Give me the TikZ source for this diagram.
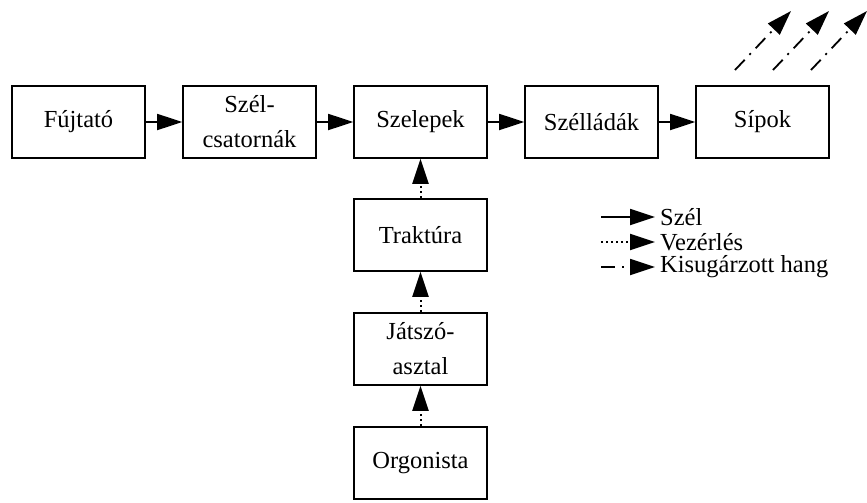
\documentclass[tikz,border=0pt]{standalone}
\usepackage{fontspec}
\setmainfont{Liberation Serif}
\usetikzlibrary{arrows.meta}
\begin{document}
\begin{tikzpicture}[x=1pt,y=-1pt,
  blk/.style={draw,line width=1.6pt,minimum width=133pt,minimum height=72pt,
    inner sep=0pt,align=center,font=\fontsize{24.5}{35}\selectfont},
  tip/.style={-{Triangle[length=25pt,width=16pt]}},
  wind/.style={tip,line width=1.8pt},
  ctrl/.style={tip,line width=2pt,dash pattern=on 2pt off 3pt},
  snd/.style={tip,line width=1.8pt,dash pattern=on 14pt off 7pt on 2pt off 7pt},
  lbl/.style={anchor=west,inner sep=0pt,font=\fontsize{24.5}{28}\selectfont}]
\useasboundingbox (0,0) rectangle (867,503);
% main wind path
\node[blk] (fuj) at (78.5,122) {Fújtató};
\node[blk] (csat) at (249.5,122) {Szél-\\csatornák};
\node[blk] (szel) at (420.5,122) {Szelepek};
\node[blk] (lad) at (591.5,122) {Szélládák};
\node[blk] (sip) at (762.5,122) {Sípok};
% control chain
\node[blk] (trak) at (420.5,235) {Traktúra};
\node[blk] (jat) at (420.5,349) {Játszó-\\asztal};
\node[blk] (org) at (420.5,463) {Orgonista};
\draw[wind] (fuj) -- (csat);
\draw[wind] (csat) -- (szel);
\draw[wind] (szel) -- (lad);
\draw[wind] (lad) -- (sip);
\draw[ctrl] (trak) -- (szel);
\draw[ctrl] (jat) -- (trak);
\draw[ctrl] (org) -- (jat);
% radiated sound
\coordinate (s1a) at (735,70); \coordinate (s1b) at (791,11);
\coordinate (s2a) at (773,70); \coordinate (s2b) at (829,11);
\coordinate (s3a) at (811,70); \coordinate (s3b) at (867,11);
\draw[snd] (s1a) -- (s1b);
\draw[snd] (s2a) -- (s2b);
\draw[snd] (s3a) -- (s3b);
% legend
\coordinate (l1a) at (601,217); \coordinate (l1b) at (655,217);
\coordinate (l2a) at (601,242); \coordinate (l2b) at (655,242);
\coordinate (l3a) at (601,267); \coordinate (l3b) at (655,267);
\draw[wind] (l1a) -- (l1b);
\draw[ctrl] (l2a) -- (l2b);
\draw[snd] (l3a) -- (l3b);
\node[lbl] (t1) at (660,217) {Szél};
\node[lbl] (t2) at (660,242) {Vezérlés};
\node[lbl] (t3) at (660,267) {Kisugárzott hang};
\end{tikzpicture}
\end{document}
